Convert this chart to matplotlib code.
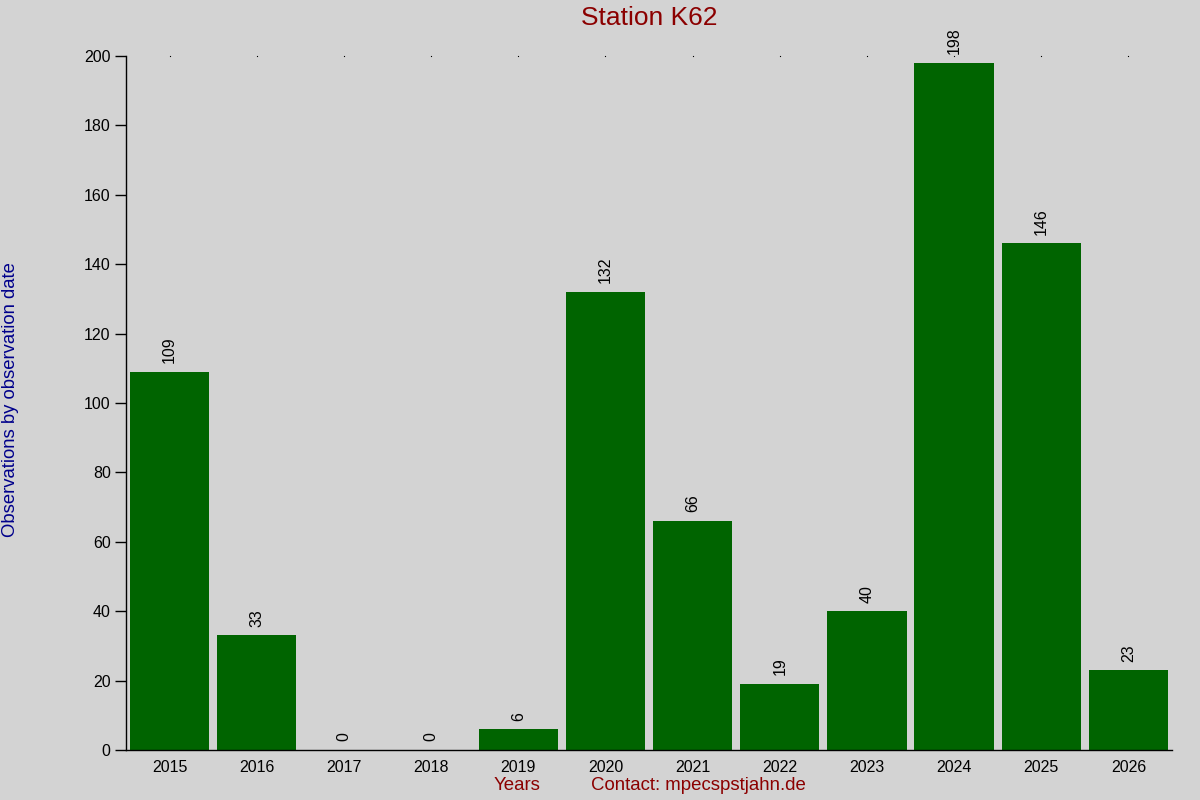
import matplotlib
matplotlib.use("Agg")
import matplotlib.pyplot as plt

years = ["2015", "2016", "2017", "2018", "2019", "2020", "2021", "2022", "2023", "2024", "2025", "2026"]
counts = [109, 33, 0, 0, 6, 132, 66, 19, 40, 198, 146, 23]
yticks = [0, 20, 40, 60, 80, 100, 120, 140, 160, 180, 200]

plt.rcParams['font.family'] = ['Liberation Sans', 'DejaVu Sans']

bg = '#d3d3d3'
fig = plt.figure(figsize=(12, 8), dpi=100, facecolor=bg)
ax = fig.add_axes([0.105, 0.0625, 0.8717, 0.8675], facecolor=bg)

x = list(range(len(years)))
ax.bar(x, counts, width=0.91, color='#006400')
for xi, c in zip(x, counts):
    ax.text(xi, c + 2.5, str(c), rotation=90, ha='center', va='bottom', fontsize=11.5, color='black')

ax.set_xlim(-0.5, len(years) - 0.5)
ax.set_ylim(0, 200)
ax.set_yticks(yticks)
ax.set_yticklabels([str(v) for v in yticks], fontsize=11.5)
ax.set_xticks(x)
ax.set_xticklabels(years, fontsize=11.5)
ax.tick_params(axis='x', length=0, pad=7)
ax.tick_params(axis='y', length=8, width=1, pad=3)
for s in ['top', 'right']:
    ax.spines[s].set_visible(False)
ax.spines['left'].set_linewidth(1)
ax.spines['bottom'].set_linewidth(1)
ax.spines['bottom'].set_bounds(-0.5, len(years) - 0.5)

# top dots
ax.plot(x, [200] * len(x), linestyle='none', marker='s', markersize=0.8, markeredgewidth=0,
        color='black', clip_on=False)

fig.text(0.541, 0.977, "Station K62", ha='center', va='center', fontsize=19, color='#8b0000')
fig.text(0.009, 0.5, "Observations by observation date", rotation=90, ha='center', va='center', fontsize=13.3, color='#00008b')
fig.text(0.431, 0.0175, "Years", ha='center', va='center', fontsize=13.4, color='#8b0000')
fig.text(0.582, 0.0175, "Contact: mpecspstjahn.de", ha='center', va='center', fontsize=13.4, color='#8b0000')

fig.savefig("out.png", dpi=100, facecolor=bg)
